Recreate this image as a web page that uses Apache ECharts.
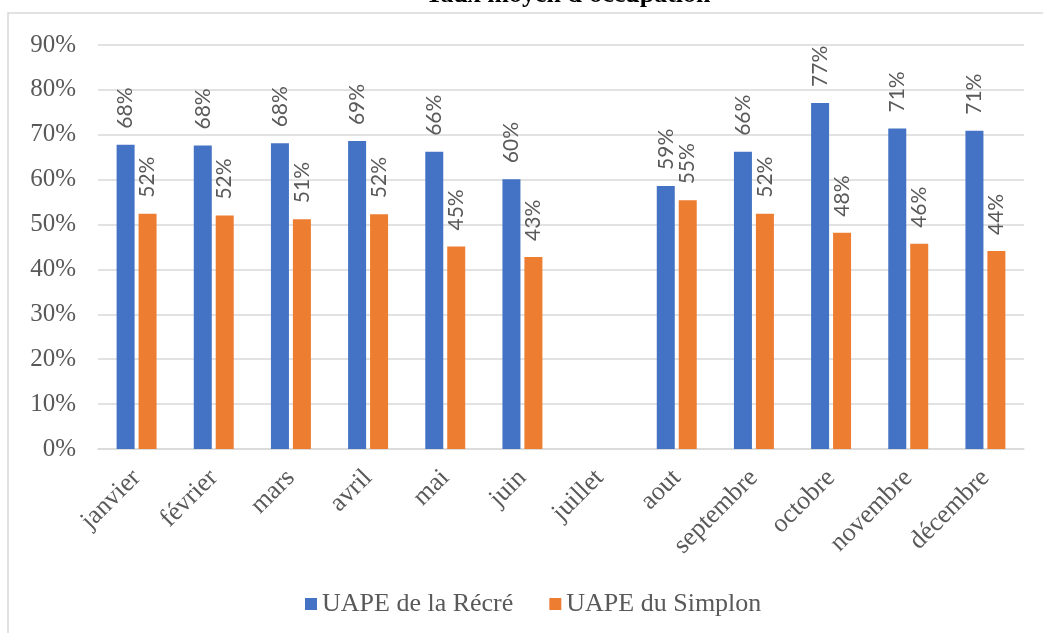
<!DOCTYPE html>
<html>
<head>
<meta charset="utf-8">
<script src="https://cdn.jsdelivr.net/npm/echarts@6/dist/echarts.min.js"></script>
<style>
  html, body { margin: 0; padding: 0; background: #fff; }
  #chart { width: 1043px; height: 633px; }
</style>
</head>
<body>
<div id="chart"></div>
<script>
// données
const months = ['janvier', 'février', 'mars', 'avril', 'mai', 'juin', 'juillet', 'aout', 'septembre', 'octobre', 'novembre', 'décembre']
const recre = [67.8, 67.6, 68.1, 68.6, 66.2, 60.1, null, 58.6, 66.2, 77.1, 71.4, 70.9]
const simplon = [52.4, 52.0, 51.2, 52.3, 45.1, 42.8, null, 55.4, 52.4, 48.2, 45.7, 44.1]
const seriesNames = ['UAPE de la Récré', 'UAPE du Simplon']
const colors = ['#4472C4', '#ED7D31']

const chart = echarts.init(document.getElementById('chart'))

const serif = '"Liberation Serif", "Times New Roman", serif'
const grey = '#595959'

const barLabel = {
  show: true,
  position: 'top',
  rotate: 90,
  align: 'left',
  verticalAlign: 'middle',
  distance: 16,
  color: grey,
  fontFamily: 'Lato, "Open Sans", sans-serif',
  fontSize: 21,
  formatter: p => Math.round(p.value) + '%'
}

chart.setOption({
  animation: false,
  color: colors,
  graphic: [
    {
      type: 'rect',
      silent: true,
      shape: { x: 8, y: 13, width: 1200, height: 800 },
      style: { fill: 'none', stroke: '#d9d9d9', lineWidth: 1.5 }
    },
    {
      type: 'text',
      silent: true,
      style: {
        text: "Taux moyen d'occupation",
        x: 568,
        y: -5,
        align: 'center',
        verticalAlign: 'middle',
        fill: '#000',
        font: 'bold 26px ' + serif
      }
    }
  ],
  grid: {
    left: 98,
    right: 19,
    top: 45,
    bottom: 184
  },
  legend: {
    bottom: 11,
    left: 300,
    icon: 'rect',
    itemWidth: 12,
    itemHeight: 12,
    itemGap: 36,
    textStyle: { color: grey, fontFamily: serif, fontSize: 26 },
    data: seriesNames
  },
  xAxis: {
    type: 'category',
    data: months,
    axisLine: { lineStyle: { color: '#d9d9d9', width: 1.5 } },
    axisTick: { show: false },
    axisLabel: {
      color: grey,
      fontFamily: serif,
      fontSize: 26,
      rotate: 45,
      interval: 0,
      margin: 25
    }
  },
  yAxis: {
    type: 'value',
    min: 0,
    max: 90,
    interval: 10,
    axisLine: { show: false },
    axisTick: { show: false },
    splitLine: { lineStyle: { color: '#d9d9d9', width: 1.5 } },
    axisLabel: {
      color: grey,
      fontFamily: serif,
      fontSize: 25,
      margin: 22,
      formatter: '{value}%'
    }
  },
  series: [
    {
      name: seriesNames[0],
      type: 'bar',
      data: recre,
      barWidth: 18,
      barGap: '22%',
      label: barLabel
    },
    {
      name: seriesNames[1],
      type: 'bar',
      data: simplon,
      barWidth: 18,
      barGap: '22%',
      label: barLabel
    }
  ]
})

window.addEventListener('resize', () => chart.resize())
</script>
</body>
</html>
